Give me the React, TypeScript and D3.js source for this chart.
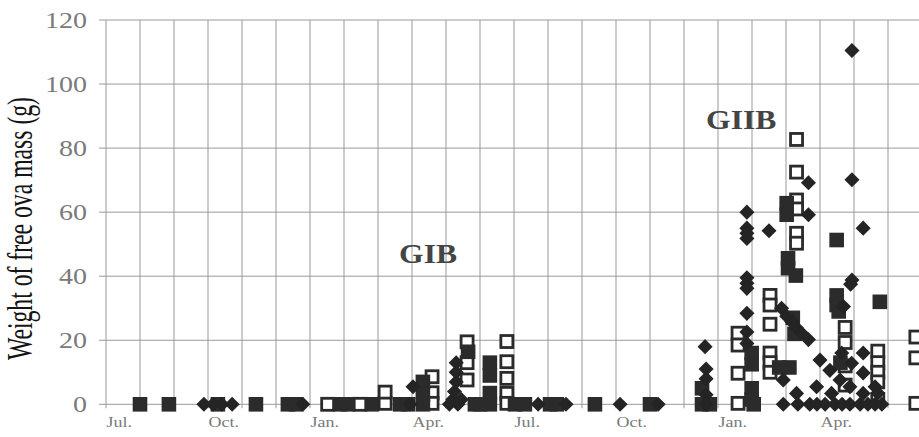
import React from "react";
import * as d3 from "d3";

// x = months since July of the first season (0 = Jul. 1), y = weight (g)
const xTickMonths = [0, 3, 6, 9, 12, 15, 18, 21];
const xTickLabels = ["Jul.", "Oct.", "Jan.", "Apr.", "Jul.", "Oct.", "Jan.", "Apr."];
const yTicks = [0, 20, 40, 60, 80, 100, 120];

const diamondPoints: [number, number][] = [
  [2.88, 0], [3.15, 0], [3.41, 0], [3.71, 0], [5.79, 0],
  [8.94, 0], [9.03, 5.5],
  [10.1, 0], [10.2, 1.5], [10.3, 13], [10.3, 10], [10.3, 7], [10.25, 4], [10.35, 0], [10.45, 1.5],
  [12.71, 0], [13.53, 0], [15.12, 0], [16.24, 0],
  [17.62, 18], [17.65, 11], [17.65, 8], [17.65, 3], [17.65, 0],
  [18.85, 60], [18.85, 55], [18.85, 53.4], [18.85, 51.8], [18.85, 39.5], [18.85, 37.8], [18.85, 36.2],
  [18.85, 28.4], [18.85, 22.6], [18.85, 19],
  [19.5, 54.2],
  [20.66, 69.2], [20.66, 59.2],
  [19.87, 30], [20.02, 27.5], [20.17, 25.8], [20.31, 23.8], [20.46, 22.2], [20.66, 20.2],
  [19.92, 7.6], [19.92, 0], [20.31, 3.4], [20.35, 0],
  [20.7, 0], [20.91, 0], [21.15, 0], [21.44, 0], [21.65, 0], [21.88, 0], [22.18, 0], [22.41, 0], [22.62, 0], [22.82, 0],
  [21.0, 13.8], [21.29, 10.6], [20.9, 5.5], [21.34, 3.4], [21.64, 16], [21.93, 12.8], [21.59, 7.6], [21.88, 5.5],
  [21.94, 110.5], [21.94, 70.1], [21.94, 38.8], [21.9, 37.5], [22.27, 55], [21.69, 30.5],
  [22.27, 16], [22.27, 9.8], [22.27, 3.4], [22.62, 5.5], [22.7, 3.5],
];

const filledSquarePoints: [number, number][] = [
  [1.0, 0], [1.85, 0], [3.29, 0], [4.41, 0], [5.35, 0], [5.59, 0], [6.88, 0], [7.12, 0], [7.82, 0],
  [8.65, 0], [8.88, 0],
  [9.32, 7], [9.32, 3], [9.32, 0], [10.85, 0], [11.0, 0], [10.65, 16.4],
  [11.29, 13], [11.29, 9], [11.29, 3.5], [11.29, 0],
  [12.03, 0], [12.32, 0], [13.06, 0], [13.26, 0], [14.38, 0], [16.0, 0],
  [17.53, 5], [17.53, 0], [17.76, 0],
  [18.99, 16], [18.99, 12.5], [18.99, 5], [18.99, 1.5], [19.05, 0],
  [20.02, 62.8], [20.02, 59.2], [20.06, 45.6], [20.06, 42.5], [20.29, 40.2],
  [20.2, 27], [20.25, 22], [19.8, 11.5], [20.1, 11.5],
  [21.49, 51.3], [21.49, 34], [21.49, 31], [21.55, 29], [21.6, 13],
  [22.76, 32],
];

const openSquarePoints: [number, number][] = [
  [6.52, 0], [7.47, 0], [8.21, 0.3], [8.21, 3.8],
  [9.59, 8.6], [9.59, 3.6], [9.59, 0.3],
  [10.62, 19.5], [10.62, 13], [10.62, 7.6],
  [11.79, 19.6], [11.79, 13.3], [11.79, 8.1], [11.79, 3.4], [11.79, 0.3],
  [18.59, 22.2], [18.59, 18.5], [18.59, 9.7], [18.59, 0.3],
  [19.53, 34], [19.53, 31], [19.53, 25], [19.53, 16], [19.53, 13], [19.53, 10],
  [20.31, 82.7], [20.31, 72.5], [20.31, 63.8], [20.31, 61], [20.31, 53.4], [20.31, 50.3],
  [21.74, 24], [21.74, 19.3], [21.74, 12], [21.74, 6],
  [22.7, 16.6], [22.7, 13], [22.7, 10], [22.7, 7], [22.7, 1.5],
  [23.82, 21], [23.82, 14.5], [23.82, 0.3],
];

const groupLabels = ["GIB", "GIIB"];
const groupLabelMonths = [8.62, 17.65];
const groupLabelValues = [44, 86];

const W = 919;
const H = 437;
const serif = "'Liberation Serif', 'Times New Roman', serif";

export default function App() {
  const x = d3.scaleLinear().domain([0, 24]).range([106, 922]);
  const y = d3.scaleLinear().domain([0, 120]).range([404.3, 20]);
  const months = d3.range(0, 25);
  const gridColor = "#999";
  const markColor = "#2b2b2b";
  const diamond = d3.symbol().type(d3.symbolDiamond2).size(145)();

  return (
    <svg
      width={W}
      height={H}
      style={{ position: "absolute", left: 0, top: 0, background: "#fff" }}
    >
      <rect x={0} y={0} width={W} height={H} fill="#fff" />
      {months.map((m) => (
        <line key={"v" + m} x1={x(m)} x2={x(m)} y1={y(120)} y2={y(0) + 4} stroke={gridColor} strokeWidth={1} />
      ))}
      {yTicks.map((t) => (
        <line key={"h" + t} x1={x(0) - 7} x2={W} y1={y(t)} y2={y(t)} stroke={gridColor} strokeWidth={1} />
      ))}
      {yTicks.map((t) => (
        <text
          key={"yl" + t}
          transform={`translate(87,${y(t) + 7.8}) scale(1.22,1)`}
          textAnchor="end"
          fontFamily={serif}
          fontSize={23}
          fill="#7a7a7a"
        >
          {t}
        </text>
      ))}
      {xTickMonths.map((m, i) => (
        <text
          key={"xl" + i}
          transform={`translate(${x(m) + 0.5},${427}) scale(1.16,1)`}
          fontFamily={serif}
          fontSize={15.5}
          fill="#7a7a7a"
        >
          {xTickLabels[i]}
        </text>
      ))}
      <text
        transform={`translate(32,${228.5}) scale(1.55,1) rotate(-90)`}
        textAnchor="middle"
        fontFamily={serif}
        fontSize={23.5}
        fill="#151515"
        textLength={263}
        lengthAdjust="spacingAndGlyphs"
      >
        Weight of free ova mass (g)
      </text>
      {groupLabels.map((g, i) => (
        <text
          key={"g" + i}
          transform={`translate(${x(groupLabelMonths[i])},${y(groupLabelValues[i])}) scale(1.13,1)`}
          fontFamily={serif}
          fontWeight="bold"
          fontSize={28}
          fill="#444"
        >
          {g}
        </text>
      ))}
      {openSquarePoints.map(([m, v], i) => (
        <rect
          key={"o" + i}
          x={x(m) - 6}
          y={y(v) - 6}
          width={12}
          height={12}
          fill="#fff"
          stroke={markColor}
          strokeWidth={2.8}
        />
      ))}
      {filledSquarePoints.map(([m, v], i) => (
        <rect key={"f" + i} x={x(m) - 7.3} y={y(v) - 7.3} width={14.6} height={14.6} fill={markColor} />
      ))}
      {diamondPoints.map(([m, v], i) => (
        <path key={"d" + i} d={diamond!} transform={`translate(${x(m)},${y(v)})`} fill="#242424" />
      ))}
    </svg>
  );
}
